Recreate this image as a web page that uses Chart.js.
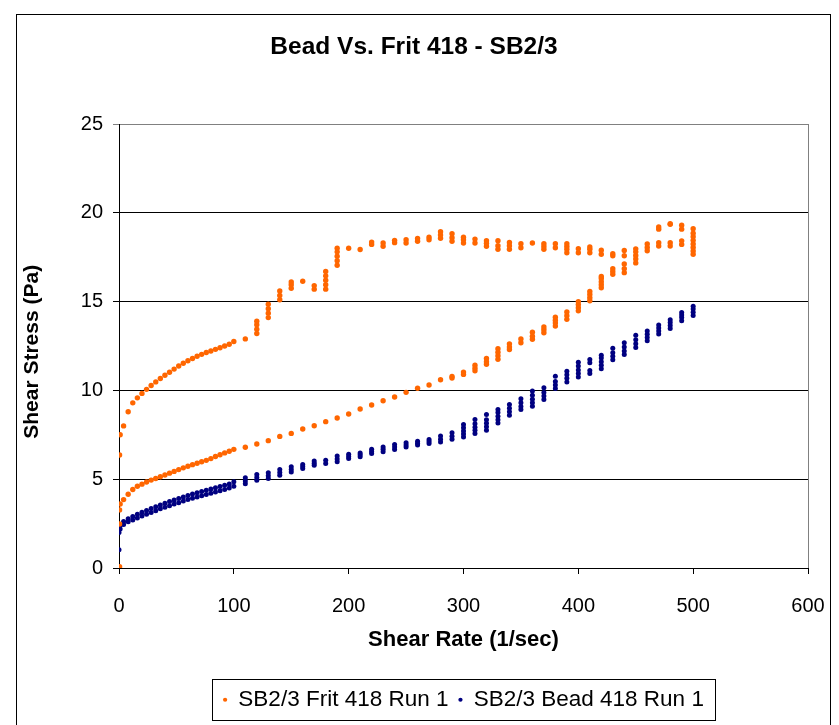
<!DOCTYPE html>
<html>
<head>
<meta charset="utf-8">
<script src="https://cdn.jsdelivr.net/npm/chart.js@4.4.0/dist/chart.umd.min.js"></script>
<style>
  html,body{margin:0;padding:0;background:#fff;}
  #wrap{width:839px;height:725px;}
</style>
</head>
<body>
<div id="wrap"><canvas id="c" width="839" height="725"></canvas></div>
<script>
// --- Data ---
// first readings at the origin
const fritStart = [0.07, 2.48, 3.27, 6.36];
const beadStart = [0.05, 1.03, 2.0, 2.29];

// dense part of the ramp, 0 - 100 1/sec
const lowRate = [1,4,8,12,16,20,24,28,32,36,40,44,48,52,56,60,64,68,72,76,80,84,88,92,96,100];
const fritLowUp = [7.5,8.0,8.8,9.3,9.58,9.83,10.06,10.28,10.48,10.67,10.85,11.02,11.2,11.37,11.53,11.67,11.8,11.92,12.03,12.13,12.22,12.31,12.4,12.5,12.6,12.75];
const fritLowDown = [3.6,3.85,4.15,4.42,4.6,4.72,4.84,4.95,5.04,5.14,5.24,5.34,5.44,5.54,5.64,5.73,5.82,5.9,5.98,6.06,6.16,6.28,6.38,6.48,6.57,6.68];
const beadLowUp = [2.4,2.62,2.77,2.9,3.03,3.14,3.24,3.35,3.45,3.55,3.65,3.74,3.83,3.92,4.0,4.08,4.16,4.24,4.31,4.38,4.45,4.52,4.59,4.66,4.73,4.85];
const beadLowDown = [2.2,2.45,2.6,2.7,2.82,2.93,3.03,3.13,3.23,3.33,3.42,3.51,3.6,3.68,3.77,3.85,3.93,4.0,4.07,4.14,4.21,4.28,4.35,4.42,4.5,4.6];

// stepped part, 110 - 500 1/sec: several readings per rate
const stepRate = [110,120,130,140,150,160,170,180,190,200,210,220,230,240,250,260,270,280,290,300,
                  310,320,330,340,350,360,370,380,390,400,410,420,430,440,450,460,470,480,490,500];
const fritSteps = [
  [6.8,12.9],
  [6.98,13.2,13.45,13.7,13.9],
  [7.17,14.1,14.35,14.6,14.85],
  [7.41,15.1,15.35,15.6],
  [7.58,15.75,15.95,16.1],
  [7.83,16.15],
  [8.01,15.7,15.9],
  [8.24,15.7,15.95,16.2,16.45,16.7],
  [8.45,17.05,17.3,17.55,17.8,18.0],
  [8.67,18.0],
  [8.95,17.93],
  [9.18,18.22,18.35],
  [9.42,18.12,18.3],
  [9.63,18.32,18.45],
  [9.89,18.3,18.48],
  [10.12,18.4,18.55],
  [10.3,18.48,18.62],
  [10.6,18.57,18.75,18.93],
  [10.7,10.78,18.4,18.6,18.82],
  [10.9,11.03,18.3,18.48,18.63],
  [11.1,11.25,11.42,18.3,18.52],
  [11.47,11.62,11.8,18.12,18.28,18.43],
  [11.75,11.95,12.15,12.35,17.95,18.15,18.43],
  [12.3,12.45,12.62,17.95,18.15,18.33],
  [12.68,12.9,18.03,18.26],
  [12.88,13.05,13.28,18.3],
  [13.25,13.42,13.57,17.95,18.1,18.26],
  [13.62,13.8,13.95,14.12,18.03,18.26],
  [14.0,14.2,14.42,17.75,17.95,18.1,18.26],
  [14.48,14.65,14.83,15.0,17.75,17.98],
  [15.05,15.22,15.4,15.57,17.75,17.95,18.08],
  [15.78,15.95,16.12,16.3,16.42,17.67,17.89],
  [16.54,16.7,16.85,17.58,17.7],
  [16.63,16.85,17.12,17.58,17.88],
  [17.18,17.4,17.6,17.8,17.97],
  [17.86,18.05,18.25],
  [18.13,18.32,19.08,19.2],
  [18.13,18.32,19.35,19.38],
  [18.22,18.42,19.08,19.3],
  [17.67,17.85,18.05,18.25,18.45,18.65,18.85,19.1]
];
const beadSteps = [
  [4.75,4.9,5.08],
  [4.94,5.1,5.27],
  [5.04,5.2,5.36],
  [5.22,5.38,5.55],
  [5.41,5.55,5.7],
  [5.6,5.72,5.83],
  [5.79,5.9,6.02],
  [5.88,6.06],
  [5.98,6.14,6.3],
  [6.16,6.28,6.4],
  [6.26,6.37,6.48],
  [6.45,6.56,6.68],
  [6.54,6.68,6.82],
  [6.67,6.81,6.95],
  [6.82,6.93,7.05],
  [6.92,7.03,7.14],
  [7.01,7.12,7.24],
  [7.1,7.25,7.43],
  [7.25,7.42,7.61],
  [7.38,7.55,7.72,7.9,8.08],
  [7.57,7.75,7.93,8.12,8.36],
  [7.76,7.95,8.15,8.35,8.64],
  [8.17,8.35,8.55,8.75,8.92],
  [8.6,8.8,9.0,9.21],
  [8.93,9.1,9.3,9.53],
  [9.11,9.3,9.5,9.72,9.96],
  [9.49,9.68,9.88,10.15],
  [10.11,10.3,10.5,10.8],
  [10.48,10.68,10.88,11.08],
  [10.76,10.95,11.15,11.38,11.59],
  [10.95,11.12,11.55,11.74],
  [11.22,11.42,11.62,11.82,11.98],
  [11.72,11.92,12.12,12.38],
  [12.02,12.22,12.45,12.68],
  [12.42,12.62,12.85,13.11],
  [12.79,12.98,13.16,13.34],
  [13.17,13.35,13.52,13.68],
  [13.48,13.66,13.82,13.98],
  [13.92,14.1,14.25,14.38],
  [14.22,14.4,14.58,14.74]
];

const seriesNames = ['SB2/3 Frit 418 Run 1', 'SB2/3 Bead 418 Run 1'];
const xTicks = [0, 100, 200, 300, 400, 500, 600];
const yTicks = [0, 5, 10, 15, 20, 25];

// --- Build points ---
function buildPoints(startRate, start, up, down, steps) {
  const pts = [];
  start.forEach(v => pts.push({x: startRate, y: v}));
  lowRate.forEach((r, i) => { pts.push({x: r, y: up[i]}); pts.push({x: r, y: down[i]}); });
  stepRate.forEach((r, i) => steps[i].forEach(v => pts.push({x: r, y: v})));
  return pts;
}
const fritPoints = buildPoints(0.5, fritStart, fritLowUp, fritLowDown, fritSteps);
const beadPoints = buildPoints(0, beadStart, beadLowUp, beadLowDown, beadSteps);

const FONT = '"Liberation Sans", Arial, sans-serif';
const LEGEND_PAD = 10;

// white page with frame, grey plot border, legend centred under plot with a frame
const framePlugin = {
  id: 'frame',
  afterUpdate(chart) {
    const lg = chart.legend, a = chart.chartArea;
    if (!lg) return;
    lg.left = a.left;
    lg.right = a.right;
    lg.width = a.right - a.left;
  },
  beforeDraw(chart) {
    const ctx = chart.ctx;
    ctx.save();
    ctx.fillStyle = '#fff';
    ctx.fillRect(0, 0, chart.width, chart.height);
    ctx.strokeStyle = '#000';
    ctx.lineWidth = 1;
    ctx.strokeRect(16.5, 14.5, 814, 740);
    ctx.restore();
  },
  beforeDatasetsDraw(chart) {
    const {ctx, chartArea: a} = chart;
    ctx.save();
    ctx.strokeStyle = '#808080';
    ctx.lineWidth = 1;
    ctx.beginPath();
    ctx.moveTo(Math.round(a.right) + 0.5, Math.round(a.top));
    ctx.lineTo(Math.round(a.right) + 0.5, Math.round(a.bottom));
    ctx.stroke();
    ctx.restore();
  },
  afterDraw(chart) {
    const lg = chart.legend;
    if (!lg || !lg.lineWidths) return;
    const lw = lg.lineWidths[0];
    const startX = (lg.left + LEGEND_PAD + lg.right - lw) / 2;
    const ctx = chart.ctx;
    ctx.save();
    ctx.strokeStyle = '#000';
    ctx.lineWidth = 1;
    const l = Math.round(startX - 11) + 0.5;
    const r = Math.round(startX + lw - LEGEND_PAD + 11) + 0.5;
    const t = Math.round(lg.top) + 0.5;
    const b = Math.round(lg.bottom) - 0.5;
    ctx.strokeRect(l, t, r - l, b - t);
    ctx.restore();
  }
};

new Chart(document.getElementById('c').getContext('2d'), {
  type: 'scatter',
  data: {
    datasets: [
      {label: seriesNames[0], data: fritPoints, backgroundColor: '#FF6600', borderColor: '#FF6600',
       pointRadius: 2.7, pointBorderWidth: 0, pointStyle: 'circle'},
      {label: seriesNames[1], data: beadPoints, backgroundColor: '#000080', borderColor: '#000080',
       pointRadius: 2.5, pointBorderWidth: 0, pointStyle: 'circle'}
    ]
  },
  options: {
    responsive: false,
    animation: false,
    devicePixelRatio: 1,
    layout: {padding: {left: 20, right: 31, top: 0, bottom: 4}},
    plugins: {
      title: {display: true, text: 'Bead Vs. Frit 418 - SB2/3', color: '#000',
              font: {family: FONT, size: 24.5, weight: 'bold'}, padding: {top: 32.3, bottom: 62.3}},
      legend: {position: 'bottom',
               labels: {color: '#000', font: {family: FONT, size: 22.5}, usePointStyle: true,
                        pointStyle: 'circle', boxWidth: 4, boxHeight: 3, padding: LEGEND_PAD}},
      tooltip: {enabled: false}
    },
    scales: {
      x: {
        type: 'linear', min: 0, max: 600,
        afterBuildTicks: s => { s.ticks = xTicks.map(v => ({value: v})); },
        afterFit: s => { s.height = 110.5; s.paddingLeft = 18; s.paddingRight = 18; },
        ticks: {color: '#000', font: {family: FONT, size: 20}, padding: 20},
        grid: {display: true, drawOnChartArea: false, drawTicks: true, tickLength: 6, color: '#000'},
        border: {display: true, color: '#000', width: 1},
        title: {display: true, text: 'Shear Rate (1/sec)', color: '#000',
                font: {family: FONT, size: 22, weight: 'bold'}, padding: {top: 0, bottom: 25}}
      },
      y: {
        type: 'linear', min: 0, max: 25,
        afterBuildTicks: s => { s.ticks = yTicks.map(v => ({value: v})); },
        afterFit: s => { s.width = 99; },
        ticks: {color: '#000', font: {family: FONT, size: 20}, padding: 10},
        grid: {color: c => (c.tick && c.tick.value === 25) ? '#808080' : '#000', tickLength: 6, lineWidth: 1},
        border: {display: true, color: '#000', width: 1},
        title: {display: true, text: 'Shear Stress (Pa)  ', color: '#000',
                font: {family: FONT, size: 21, weight: 'bold'}, padding: {top: 0, bottom: 0}}
      }
    }
  },
  plugins: [framePlugin]
});
</script>
</body>
</html>
